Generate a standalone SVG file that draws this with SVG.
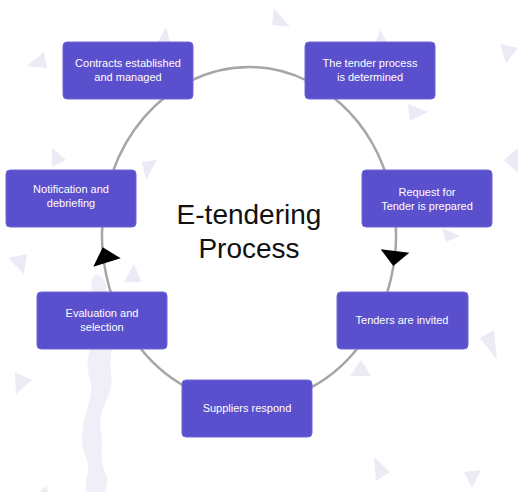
<svg xmlns="http://www.w3.org/2000/svg" width="518" height="492" viewBox="0 0 518 492">
<style>
.bg{fill:#ebeaf5}
.band{fill:#f0eff8}
.box{fill:#5a4fcc;stroke:#6f66d6;stroke-width:1}
.lbl{font-family:"Liberation Sans",Arial,sans-serif;font-size:11px;fill:#ffffff;text-anchor:middle}
.title{font-family:"Liberation Sans",Arial,sans-serif;font-size:28px;fill:#111111;text-anchor:middle}
.arc{fill:none;stroke:#a6a6a6;stroke-width:2.5}
.head{fill:#000000}
</style>
<rect width="518" height="492" fill="#ffffff"/>
<g id="background">
<path class="band" d="M96,274 C110,280 104,288 108,296 L112,350 C108,365 114,378 110,392 C104,405 98,418 101,432 C104,445 98,460 106,474 C110,482 104,488 106,492 L86,492 C84,480 92,470 86,458 C80,446 82,432 84,420 C88,405 94,392 90,380 C86,368 88,356 90,348 L92,292 C90,284 92,278 96,274 Z"/>
<polygon class="bg" points="274,8 290,27 272,25"/>
<polygon class="bg" points="27,66 44,52 47,68"/>
<polygon class="bg" points="158,42 166,27 170,42"/>
<polygon class="bg" points="374,46 380,30 388,44"/>
<polygon class="bg" points="500,44 518,48 506,63"/>
<polygon class="bg" points="408,104 428,112 410,121"/>
<polygon class="bg" points="52,148 66,160 52,167"/>
<polygon class="bg" points="142,162 157,160 146,180"/>
<polygon class="bg" points="504,160 518,148 518,173"/>
<polygon class="bg" points="442,228 460,236 446,242"/>
<polygon class="bg" points="8,258 27,254 24,274"/>
<polygon class="bg" points="124,282 134,264 141,282"/>
<polygon class="bg" points="480,338 494,330 497,360"/>
<polygon class="bg" points="350,376 361,360 371,376"/>
<polygon class="bg" points="15,372 32,380 16,394"/>
<polygon class="bg" points="374,457 390,472 376,481"/>
<polygon class="bg" points="464,472 481,470 472,488"/>
<polygon class="bg" points="40,492 46,486 48,492"/>
</g>
<g id="connectors">
<path class="arc" d="M189.2,81.5 A147 168 0 0 1 308.8,81.5"/>
<path class="arc" d="M331.2,95.7 A147 168 0 0 1 387.1,177.5"/>
<path class="arc" d="M393.8,205.8 A147 168 0 0 1 361.6,343"/>
<path class="arc" d="M358.2,347.4 A147 168 0 0 1 304.1,390.8"/>
<path class="arc" d="M193.9,390.8 A147 168 0 0 1 139.8,347.4"/>
<path class="arc" d="M136.4,343 A147 168 0 0 1 110.9,177.5"/>
<path class="arc" d="M104.2,205.8 A147 168 0 0 1 166.8,95.7"/>
<polygon class="head" points="102.7,247.3 120.7,258.3 93.3,266.7"/>
<polygon class="head" points="380.7,249.3 409.3,252.7 393.3,266"/>
</g>
<g id="title">
<text class="title" x="249" y="224">E-tendering</text>
<text class="title" x="249" y="258">Process</text>
</g>
<g id="node-contracts">
<rect class="box" x="63" y="42" width="130" height="57" rx="4"/>
<text class="lbl" x="128" y="67">Contracts established</text>
<text class="lbl" x="128" y="81">and managed</text>
</g>
<g id="node-tender-process">
<rect class="box" x="305" y="42" width="130" height="57" rx="4"/>
<text class="lbl" x="370" y="67">The tender process</text>
<text class="lbl" x="370" y="81">is determined</text>
</g>
<g id="node-notification">
<rect class="box" x="6" y="170" width="130" height="57" rx="4"/>
<text class="lbl" x="71" y="193">Notification and</text>
<text class="lbl" x="71" y="207">debriefing</text>
</g>
<g id="node-request">
<rect class="box" x="362" y="170" width="130" height="57" rx="4"/>
<text class="lbl" x="427" y="196">Request for</text>
<text class="lbl" x="427" y="210">Tender is prepared</text>
</g>
<g id="node-evaluation">
<rect class="box" x="37" y="292" width="130" height="57" rx="4"/>
<text class="lbl" x="102" y="317">Evaluation and</text>
<text class="lbl" x="102" y="331">selection</text>
</g>
<g id="node-invited">
<rect class="box" x="337" y="292" width="131" height="57" rx="4"/>
<text class="lbl" x="402" y="324">Tenders are invited</text>
</g>
<g id="node-suppliers">
<rect class="box" x="182" y="380" width="130" height="57" rx="4"/>
<text class="lbl" x="247" y="412">Suppliers respond</text>
</g>
</svg>
